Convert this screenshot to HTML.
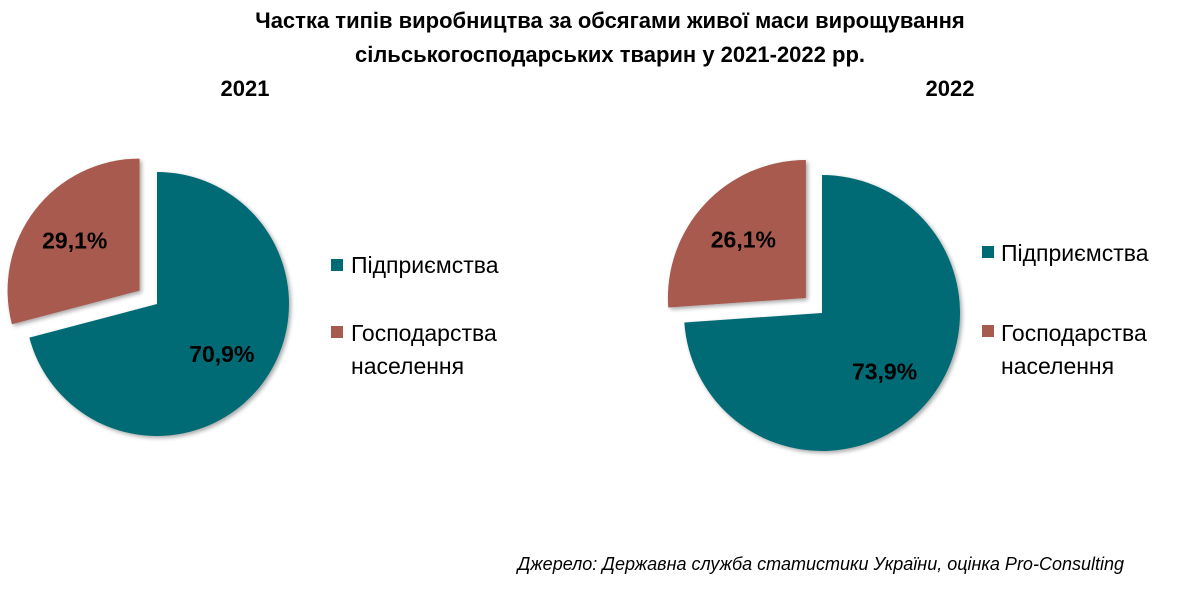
<!DOCTYPE html>
<html><head><meta charset="utf-8">
<style>
body{margin:0;background:#fff;width:1195px;height:597px;overflow:hidden;font-family:"Liberation Sans",sans-serif;}
</style></head>
<body>
<svg id="chart" width="1195" height="597" viewBox="0 0 1195 597" xmlns="http://www.w3.org/2000/svg" font-family="Liberation Sans, sans-serif">
<defs><filter id="sh" x="-20%" y="-20%" width="140%" height="140%"><feGaussianBlur in="SourceAlpha" stdDeviation="2"/><feOffset dx="2" dy="2"/><feComponentTransfer><feFuncA type="linear" slope="0.35"/></feComponentTransfer><feMerge><feMergeNode/><feMergeNode in="SourceGraphic"/></feMerge></filter></defs>
<text x="610" y="28" text-anchor="middle" font-size="22" font-weight="bold">Частка типів виробництва за обсягами живої маси вирощування</text>
<text x="610" y="62" text-anchor="middle" font-size="22" font-weight="bold">сільськогосподарських тварин у 2021-2022 рр.</text>
<text x="245" y="96" text-anchor="middle" font-size="22" font-weight="bold">2021</text>
<text x="950" y="96" text-anchor="middle" font-size="22" font-weight="bold">2022</text>
<g id="pies"></g>
<g>
<rect x="331" y="259" width="12" height="12" fill="#006B74"/>
<text x="351" y="273" font-size="23">Підприємства</text>
<rect x="331" y="326" width="12" height="12" fill="#A75A4E"/>
<text x="351" y="341" font-size="23">Господарства</text>
<text x="351" y="374" font-size="23">населення</text>
</g>
<g>
<rect x="982" y="246" width="12" height="12" fill="#006B74"/>
<text x="1001" y="261" font-size="23">Підприємства</text>
<rect x="982" y="325" width="12" height="12" fill="#A75A4E"/>
<text x="1001" y="341" font-size="23">Господарства</text>
<text x="1001" y="374" font-size="23">населення</text>
</g>
<text x="1124" y="570" text-anchor="end" font-size="18" font-style="italic">Джерело: Державна служба статистики України, оцінка Pro-Consulting</text>
</svg>
<script>
const years = ["2021", "2022"];
const enterprises = [70.9, 73.9];
const households = [29.1, 26.1];
const NS = "http://www.w3.org/2000/svg";
const layout = [{cx:157, cy:304, r:132, ex:22}, {cx:822, cy:313, r:138, ex:22}];
const colors = ["#006B74", "#A75A4E"];
const g = document.getElementById("pies");
function pt(cx, cy, r, a){ return [cx + r*Math.sin(a), cy - r*Math.cos(a)]; }
years.forEach((y, i) => {
  const L = layout[i];
  const vals = [enterprises[i], households[i]];
  const total = vals[0] + vals[1];
  let start = 0;
  vals.forEach((v, k) => {
    const sweep = v / total * 2 * Math.PI;
    const end = start + sweep;
    const mid = start + sweep / 2;
    const off = k === 1 ? L.ex : 0;
    const cx = L.cx + off*Math.sin(mid), cy = L.cy - off*Math.cos(mid);
    const p1 = pt(cx, cy, L.r, start), p2 = pt(cx, cy, L.r, end);
    const large = sweep > Math.PI ? 1 : 0;
    const path = document.createElementNS(NS, "path");
    path.setAttribute("d", `M${cx},${cy} L${p1[0]},${p1[1]} A${L.r},${L.r} 0 ${large} 1 ${p2[0]},${p2[1]} Z`);
    path.setAttribute("fill", colors[k]);
    path.setAttribute("filter", "url(#sh)");
    
    
    g.appendChild(path);
    const lr = k === 0 ? L.r*0.62 : L.r*0.62;
    const lp = pt(cx, cy, lr, mid);
    const t = document.createElementNS(NS, "text");
    t.setAttribute("x", lp[0]); t.setAttribute("y", lp[1] + 8);
    t.setAttribute("text-anchor", "middle");
    t.setAttribute("font-size", "23"); t.setAttribute("font-weight", "bold");
    t.textContent = v.toFixed(1).replace(".", ",") + "%";
    
    
    g.appendChild(t);
    start = end;
  });
});
</script>
</body></html>
